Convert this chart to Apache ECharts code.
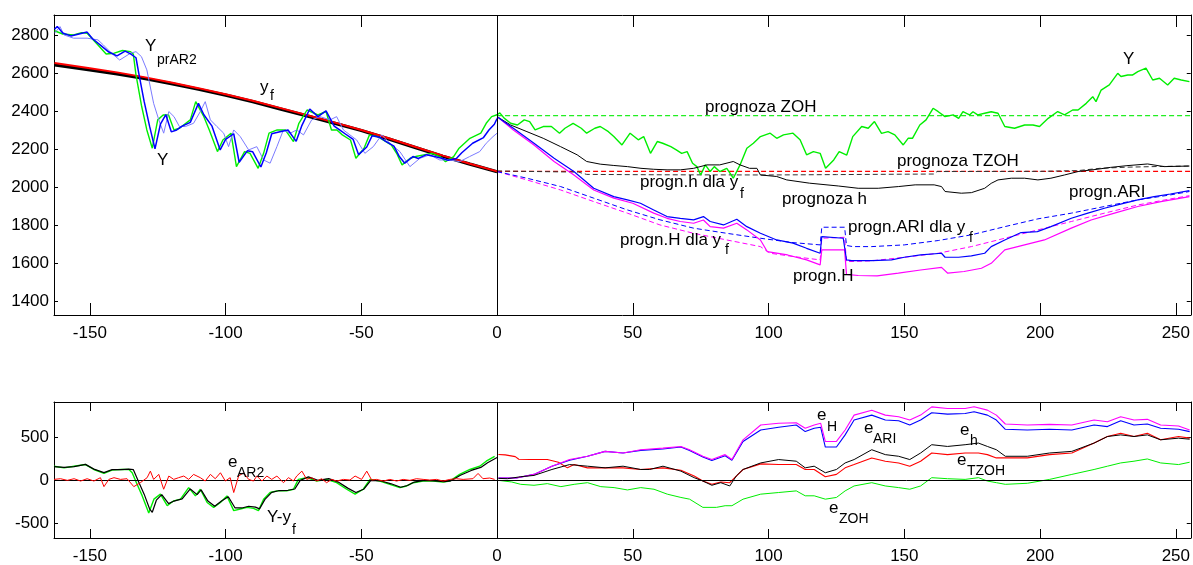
<!DOCTYPE html>
<html><head><meta charset="utf-8">
<script src="https://cdn.jsdelivr.net/npm/echarts@6/dist/echarts.min.js"></script>
<style>html,body{margin:0;padding:0;background:#fff}#c{width:1193px;height:565px}</style>
</head><body><div id="c"></div>
<script>
// ---------- tick labels ----------
const xTicks = [-150,-100,-50,0,50,100,150,200,250];
const topYTicks = [1400,1600,1800,2000,2200,2400,2600,2800];
const botYTicks = [-500,0,500];

// ---------- top plot: observed series Y (history + forecast horizon) ----------
const Y_obs = [[-163,2822],[-160,2805],[-156,2800],[-153,2812],[-151,2809],[-147,2747],[-144,2700],[-141,2704],[-138,2718],[-135,2712],[-134,2700],[-133,2590],[-131,2430],[-129,2300],[-127,2204],[-125,2353],[-123,2379],[-121,2379],[-119,2300],[-117,2309],[-113,2353],[-111,2449],[-108,2370],[-106,2300],[-103,2186],[-101,2247],[-98,2283],[-96,2107],[-93,2186],[-91,2177],[-88,2098],[-86,2177],[-84,2283],[-81,2300],[-78,2300],[-75,2239],[-73,2335],[-70,2405],[-66,2379],[-63,2397],[-61,2300],[-59,2300],[-57,2274],[-54,2247],[-52,2151],[-49,2204],[-47,2274],[-44,2265],[-42,2247],[-39,2221],[-37,2177],[-35,2116],[-32,2151],[-30,2160],[-27,2169],[-24,2177],[-21,2160],[-19,2133],[-16,2160],[-14,2204],[-10,2256],[-6,2283],[-4,2335],[-2,2370],[0,2380],
[1,2390],[2.6,2362],[5,2335],[7.5,2326],[10,2353],[12,2344],[14,2300],[17,2318],[20,2318],[23,2283],[25,2309],[28,2335],[31,2309],[33,2283],[36,2309],[38,2318],[41,2291],[43,2265],[46,2221],[49,2283],[52,2248],[54,2265],[56.5,2177],[59,2239],[61,2230],[64,2212],[66,2195],[68,2177],[70,2186],[72,2125],[73.6,2107],[75,2063],[76.7,2116],[78.5,2081],[80,2107],[82,2081],[84.6,2098],[87,2046],[89.5,2116],[92,2204],[94.4,2230],[97,2265],[100.6,2283],[103,2256],[105.5,2274],[109,2283],[111.6,2248],[114,2169],[116.5,2186],[119,2177],[121,2098],[124,2142],[126,2186],[128.8,2168],[131,2265],[134.3,2318],[136.7,2309],[139,2344],[141.6,2282],[144,2291],[146.5,2274],[149.6,2221],[151.4,2256],[153,2256],[155.7,2326],[158,2353],[160.6,2414],[162.5,2396],[165,2370],[168,2379],[170,2361],[171.6,2396],[174,2379],[175.3,2396],[177,2379],[179.6,2388],[182,2396],[184.5,2388],[187,2318],[190.6,2309],[194.3,2326],[197.4,2326],[199.8,2318],[203,2361],[206.5,2397],[209,2379],[212,2405],[214,2405],[217,2440],[219.4,2475],[220.6,2449],[222.5,2510],[225.5,2537],[228.6,2598],[229.8,2581],[232.3,2589],[234,2589],[236,2607],[239,2625],[241.5,2563],[244,2572],[247,2537],[249.4,2572],[252,2563],[255,2554]];

const Y_blue_hist = [[-163,2830],[-162,2845],[-160,2810],[-157,2795],[-154,2805],[-151,2815],[-149,2780],[-146,2745],[-143,2710],[-140,2690],[-137,2715],[-135,2700],[-133,2680],[-132,2600],[-130,2450],[-128,2320],[-126,2200],[-124,2330],[-122,2380],[-120,2290],[-118,2300],[-116,2320],[-113,2340],[-110,2440],[-108,2380],[-105,2320],[-102,2195],[-100,2250],[-97,2280],[-95,2130],[-92,2190],[-90,2185],[-87,2105],[-85,2180],[-83,2280],[-80,2290],[-77,2300],[-74,2240],[-72,2320],[-69,2410],[-66,2370],[-63,2400],[-60,2320],[-58,2300],[-56,2280],[-53,2250],[-51,2170],[-48,2210],[-46,2270],[-43,2260],[-41,2240],[-38,2215],[-36,2160],[-34,2125],[-31,2160],[-29,2150],[-26,2170],[-23,2160],[-20,2150],[-18,2140],[-15,2150],[-13,2180],[-9,2230],[-5,2260],[-3,2300],[-1,2330],[0,2360]];

const Y_prAR2 = [[-163,2809],[-161,2844],[-159.5,2800],[-156,2783],[-151,2783],[-147,2774],[-145,2747],[-142,2704],[-139,2668],[-135,2704],[-133,2712],[-131,2686],[-129,2616],[-126.5,2440],[-124.6,2353],[-122.8,2283],[-120.9,2397],[-119,2370],[-117,2318],[-114.8,2318],[-111.8,2335],[-109.3,2397],[-107.5,2449],[-105.6,2353],[-103.2,2318],[-100.7,2283],[-98.9,2212],[-97,2300],[-94.6,2265],[-91.5,2195],[-88.5,2212],[-86,2142],[-83.6,2125],[-81.1,2212],[-78.7,2300],[-76.2,2283],[-73.8,2300],[-71.3,2274],[-68.3,2353],[-65.2,2370],[-61.5,2353],[-59.1,2370],[-56.6,2300],[-54.2,2274],[-51.7,2247],[-48.7,2177],[-45.6,2212],[-42.5,2274],[-39.5,2230],[-35.8,2186],[-32.1,2107],[-28.4,2151],[-24.8,2169],[-21.1,2142],[-17.4,2142],[-13.8,2133],[-10.1,2160],[-6.4,2186],[-4,2230],[-1.5,2265],[0,2283]];

const yf_red = [[-163,2652],[-150,2625],[-140,2603],[-130,2578],[-120,2550],[-110,2520],[-100,2488],[-90,2454],[-80,2416],[-70,2378],[-60,2340],[-50,2300],[-40,2256],[-30,2210],[-20,2165],[-10,2122],[0,2082]];
const yf_black = [[-163,2642],[-150,2616],[-140,2595],[-130,2571],[-120,2544],[-110,2514],[-100,2483],[-90,2449],[-80,2411],[-70,2374],[-60,2336],[-50,2297],[-40,2253],[-30,2207],[-20,2162],[-10,2120],[0,2080]];

// ---------- top plot: forecasts ----------
const ZOH_level = 2375;
const TZOH_level = 2082;
const prog_h = [[0,2370],[5,2326],[11,2291],[17,2256],[23.4,2212],[29.5,2169],[33,2134],[38,2120],[43,2113],[48,2107],[53,2098],[57.7,2093],[62.6,2090],[67.5,2090],[72.4,2098],[77.3,2116],[82,2116],[87,2134],[89.5,2116],[93,2098],[95.7,2098],[97,2063],[103,2055],[106.7,2037],[115,2020],[125.7,2005],[133,1993],[140.4,1993],[147.8,2002],[154,2011],[161,2011],[163.7,2002],[165,1976],[171,1967],[174.7,1970],[179.6,1993],[182,2019],[184.5,2037],[189.4,2046],[194.3,2046],[199.2,2037],[204,2046],[209,2063],[214,2081],[221,2093],[226,2103],[232,2112],[239.6,2121],[245.7,2107],[255,2110]];
const prog_h_yf = [[0,2084],[30,2078],[33,2066],[60,2064],[100,2063],[125,2065],[161,2068],[162,2081],[200,2082],[214,2086],[222,2098],[232,2104],[245,2108],[255,2110]];
const prog_ARI = [[0,2370],[6,2309],[13.6,2230],[21,2151],[28.3,2081],[35.6,1993],[43,1949],[48,1932],[52.8,1914],[57.7,1879],[62.6,1844],[67.5,1835],[72.4,1827],[76,1844],[78.5,1818],[83.4,1800],[88.3,1830],[92,1791],[97,1756],[103,1721],[109,1704],[114,1677],[119,1651],[119.6,1739],[127.5,1730],[128.7,1616],[130.6,1612],[138,1612],[145.3,1616],[150,1630],[156,1642],[163.7,1651],[165,1630],[170,1630],[174.7,1637],[179.6,1651],[182,1686],[187,1721],[193,1760],[199,1765],[204,1791],[211.5,1835],[217.6,1862],[223.7,1888],[230,1911],[236,1932],[242,1949],[248,1963],[255,1981]];
const prog_H = [[0,2370],[6,2300],[13.6,2221],[21,2134],[28.3,2063],[35.6,1984],[43,1941],[50,1914],[57.7,1862],[62.6,1835],[67.5,1818],[72.4,1809],[76,1826],[78.5,1791],[83.4,1783],[88.3,1809],[92,1774],[97,1721],[99.5,1660],[107,1642],[114,1616],[119,1590],[119.6,1669],[128,1669],[128.7,1540],[133,1534],[140,1532],[147.8,1546],[156,1563],[163.7,1577],[166,1546],[172,1555],[178.4,1572],[182,1598],[187,1669],[194.3,1695],[201.6,1721],[211.5,1783],[218.8,1826],[227.4,1862],[236,1897],[244.5,1923],[255,1949]];
const prog_ARI_yf = [[0,2081],[11,2046],[23.4,2002],[35.6,1941],[48,1879],[60,1827],[72.4,1783],[84.6,1756],[97,1730],[109,1707],[119,1695],[119.6,1788],[128,1788],[128.7,1692],[131,1686],[138,1686],[150,1695],[162.5,1718],[174.7,1748],[187,1791],[199.2,1832],[211.5,1862],[223.7,1897],[236,1932],[248,1958],[255,1976]];
const prog_H_yf = [[0,2081],[11,2037],[23.4,1984],[35.6,1923],[48,1862],[60,1800],[72.4,1756],[84.6,1721],[97,1686],[100.6,1651],[109,1634],[119,1616],[119.6,1730],[128,1735],[128.7,1607],[138,1611],[150,1630],[162.5,1651],[174.7,1686],[187,1730],[199.2,1774],[211.5,1818],[223.7,1862],[236,1905],[248,1937],[255,1954]];

// ---------- bottom plot: deviations / errors ----------
const dev_green = [[-163.2,164],[-159.5,145],[-155.8,164],[-151.6,183],[-148.5,126],[-144.8,80],[-141.8,118],[-138.7,126],[-135.6,126],[-134.4,88],[-132.6,-46],[-130.7,-180],[-128.3,-378],[-126.4,-218],[-124,-160],[-121.5,-294],[-119.1,-237],[-116.6,-218],[-113.6,-84],[-111.1,-180],[-109.3,-103],[-106.8,-256],[-104.4,-313],[-101.9,-256],[-99.5,-180],[-97,-351],[-94.6,-332],[-92.1,-313],[-89.7,-325],[-87.9,-351],[-86,-218],[-83.6,-141],[-81.1,-122],[-77.5,-122],[-75,-103],[-73.2,11],[-70.1,31],[-66.4,-8],[-62.8,11],[-59.1,-27],[-55.4,-103],[-52.3,-160],[-49.3,-103],[-46.8,11],[-43.2,-8],[-39.5,-46],[-35.8,-84],[-33.3,-65],[-30.9,-27],[-27.2,-8],[-23.6,-8],[-19.9,-19],[-17.4,-8],[-13.8,69],[-10,126],[-6.4,164],[-4,222],[-0.9,279]];
const dev_black = [[-163.2,160],[-159.5,150],[-155.8,160],[-151.6,185],[-148.5,130],[-144.8,90],[-141.8,125],[-138.7,125],[-135.6,130],[-134,125],[-132,-20],[-130,-160],[-128,-330],[-127,-370],[-125.5,-230],[-123.5,-165],[-121,-270],[-119,-240],[-116,-215],[-113,-100],[-110.5,-165],[-109,-110],[-106.5,-240],[-104,-300],[-101.5,-240],[-99,-190],[-96.5,-320],[-94,-320],[-91.5,-300],[-89,-310],[-87.5,-330],[-85.5,-220],[-83,-140],[-80.5,-120],[-77,-115],[-74.5,-100],[-72.5,0],[-69.5,40],[-66,0],[-62,20],[-58.5,-20],[-55,-90],[-52,-140],[-49,-100],[-46.5,0],[-43,-5],[-39,-40],[-35.5,-80],[-33,-60],[-30.5,-20],[-27,0],[-23,-5],[-19.5,-15],[-17,-5],[-13.5,60],[-9.5,115],[-6,150],[-3.5,205],[0,265]];
const e_AR2 = [[-163.2,11],[-160.8,19],[-158.3,0],[-155.8,19],[-153.4,-8],[-151,19],[-148.5,-8],[-146.1,31],[-144.8,-73],[-143,11],[-141.1,31],[-138.7,11],[-136.3,19],[-133.8,-73],[-131.4,-27],[-128.9,31],[-127.7,107],[-126.5,11],[-124.6,69],[-122.8,-103],[-120.9,50],[-119.1,11],[-117.3,31],[-115.4,50],[-113.6,11],[-111.8,69],[-109.3,31],[-107.5,-8],[-105.6,69],[-103.8,19],[-101.9,88],[-100.1,-8],[-98.3,31],[-97,-141],[-95.2,50],[-93.4,88],[-91.5,11],[-89.7,-8],[-88.5,50],[-86.6,-8],[-84.8,50],[-83,11],[-81.1,50],[-78.7,-27],[-76.8,31],[-75,-8],[-73.8,50],[-71.9,107],[-70.1,11],[-68.3,31],[-66.4,-8],[-64.6,19],[-62.8,-27],[-60.9,11],[-59.1,-8],[-56.6,11],[-54.2,4],[-52.3,50],[-49.9,11],[-48,107],[-46.2,4],[-44.4,11],[-41.9,-8],[-39.5,11],[-37,-8],[-34.6,11],[-32.1,0],[-29.7,19],[-27.2,11],[-24.8,4],[-22.3,11],[-19.9,-8],[-17.4,11],[-15,19],[-12.5,11],[-8.9,19],[-7,80],[-5.2,19],[-2.7,27],[-0.9,11]];
const e_H = [[0.5,27],[7.1,27],[13.6,69],[20.2,164],[26.7,241],[33.3,279],[39.8,336],[46.4,317],[52.9,355],[61.1,374],[67.7,393],[70.9,355],[75.8,279],[79.1,241],[84,298],[86.5,241],[90.6,470],[97.1,642],[103.7,661],[110.2,668],[113.5,603],[116.8,642],[119.2,661],[120.9,451],[125,451],[128.2,584],[131.5,756],[138,813],[143,756],[147.9,737],[152,699],[156,756],[160.1,852],[165.9,833],[172.4,833],[175.7,852],[180.6,814],[183.9,756],[187.2,653],[195.3,642],[203.5,649],[211.7,642],[219.9,699],[224.8,680],[229.7,737],[234.6,699],[239.5,707],[244.4,642],[251,630],[255.1,584]];
const e_ARI = [[0.5,27],[7.1,27],[13.6,69],[20.2,164],[26.7,233],[33.3,279],[39.8,336],[46.4,317],[52.9,347],[61.1,363],[67.7,386],[70.9,347],[75.8,271],[79.1,229],[84,286],[86.5,233],[90.6,451],[97.1,584],[103.7,615],[110.2,642],[113.5,565],[116.8,604],[119.2,615],[120.9,386],[125,386],[128.2,527],[131.5,699],[138,756],[143,699],[147.9,691],[152,642],[156,699],[160.1,783],[165.9,768],[172.4,775],[175.7,795],[180.6,756],[183.9,699],[187.2,592],[195.3,584],[203.5,592],[211.7,584],[219.9,642],[224.8,623],[229.7,691],[234.6,642],[239.5,653],[244.4,604],[251,592],[255.1,565]];
const e_h = [[0.5,23],[3.8,19],[8.7,42],[13.6,57],[20.2,126],[26.7,183],[33.3,164],[39.8,145],[46.4,164],[52.9,126],[56.2,126],[61.1,164],[67.7,107],[72.6,31],[75.8,-8],[79.1,-57],[82.4,-27],[85.7,-65],[88.1,50],[90.6,126],[97.1,202],[103.7,241],[110.2,222],[113.5,145],[116.8,164],[120.9,88],[125,126],[128.2,202],[131.5,241],[138,355],[143,298],[147.9,279],[152,241],[156,317],[160.1,413],[165.9,393],[172.4,413],[177.3,432],[180.6,393],[183.9,355],[187.2,279],[195.3,279],[203.5,317],[211.7,336],[219.9,432],[224.8,508],[229.7,527],[234.6,508],[239.5,527],[244.4,470],[251,489],[255.1,477]];
const e_TZOH = [[0.5,300],[3,295],[6.7,275],[8,245],[12,241],[18.5,241],[22.6,210],[25.9,145],[28.4,183],[33.3,145],[39.8,145],[46.4,145],[52.9,126],[61.1,145],[67.7,118],[72.6,50],[75.8,-8],[79.1,-46],[82.4,-19],[85.7,-27],[88.1,50],[90.6,126],[97.1,191],[103.7,183],[110.2,183],[113.5,126],[116.8,126],[120.9,42],[125,69],[128.2,145],[131.5,183],[138,260],[143,222],[147.9,202],[152,164],[156,222],[160.1,317],[165.9,298],[172.4,317],[177.3,317],[180.6,298],[183.9,260],[187.2,260],[195.3,260],[203.5,298],[211.7,317],[219.9,432],[224.8,508],[229.7,546],[234.6,508],[239.5,546],[244.4,470],[251,508],[255.1,489]];
const e_ZOH = [[0.5,0],[5.4,-19],[8.7,-46],[13.6,-57],[18.5,-38],[23.5,-73],[28.4,-46],[33.3,-27],[38.2,-73],[43.1,-84],[48,-111],[52.9,-84],[57.8,-103],[62.7,-160],[67.7,-198],[70.9,-218],[75.8,-313],[80.8,-313],[84,-294],[86.5,-294],[90.6,-218],[97.1,-160],[103.7,-141],[110.2,-122],[113.5,-179],[116.8,-179],[120.9,-218],[125,-198],[128.2,-122],[131.5,-65],[138,-27],[143,-65],[147.9,-84],[152,-103],[156,-65],[160.1,31],[165.9,19],[172.4,11],[177.3,31],[180.6,-8],[183.9,-27],[187.2,-46],[195.3,-34],[203.5,11],[211.7,69],[219.9,126],[224.8,164],[229.7,202],[234.6,222],[239.5,248],[244.4,202],[251,183],[255.1,210]];

// ---------- chart ----------
const FONT = '"Liberation Sans", Arial, sans-serif';
const XMIN = -163.2, XMAX = 255.5;
const plain = v => String(v);
function xAx(grid, pos, showLabel, tickLen){
  return {type:'value', gridIndex:grid, position:pos, min:XMIN, max:XMAX,
    axisLine:{show:true, onZero:false, lineStyle:{color:'#000', width:1}},
    axisTick:{show:true, inside:true, length:tickLen, customValues:xTicks, lineStyle:{color:'#000'}},
    axisLabel:{show:showLabel, customValues:xTicks, formatter:plain, color:'#000', fontSize:17, fontFamily:FONT, margin:10},
    splitLine:{show:false}};
}
function yAx(grid, pos, mn, mx, ticks, showLabel){
  return {type:'value', gridIndex:grid, position:pos, min:mn, max:mx,
    axisLine:{show:true, onZero:false, lineStyle:{color:'#000', width:1}},
    axisTick:{show:true, inside:true, length:4, customValues:ticks, lineStyle:{color:'#000'}},
    axisLabel:{show:showLabel, customValues:ticks, formatter:plain, color:'#000', fontSize:17, fontFamily:FONT, margin:5},
    splitLine:{show:false}};
}
function line(name, data, color, width, xi, yi, dashed, z){
  return {name, type:'line', data, xAxisIndex:xi, yAxisIndex:yi, showSymbol:false, symbol:'none',
    lineStyle:{color, width, type: dashed ? [5,3] : 'solid'}, silent:true, z: z||2, animation:false};
}
function hline(name, level, color, xi, yi){
  return line(name, [[0, level],[XMAX, level]], color, 1.2, xi, yi, true, 2);
}

const series = [
  line('yf_black', yf_black, '#000000', 3.2, 0, 0, false, 2),
  line('yf_red', yf_red, '#ff0000', 2, 0, 0, false, 3),
  line('Y', Y_obs, '#00ee00', 1.4, 0, 0, false, 3),
  line('Y_prAR2', Y_prAR2, '#7b7bff', 1, 0, 0, false, 3),
  line('Y_blue', Y_blue_hist, '#0000ff', 1.5, 0, 0, false, 4),
  hline('ZOH', ZOH_level, '#22ee22', 0, 0),
  hline('TZOH', TZOH_level, '#ff0000', 0, 0),
  line('prog_h_yf', prog_h_yf, '#333333', 1, 0, 0, true, 2),
  line('prog_h', prog_h, '#000000', 1, 0, 0, false, 3),
  line('prog_H_yf', prog_H_yf, '#ff00ff', 1, 0, 0, true, 3),
  line('prog_ARI_yf', prog_ARI_yf, '#0000ff', 1, 0, 0, true, 3),
  line('prog_H', prog_H, '#ff00ff', 1.2, 0, 0, false, 3),
  line('prog_ARI', prog_ARI, '#0000ff', 1.2, 0, 0, false, 4),
  // bottom
  line('dev_green', dev_green, '#00ee00', 1.4, 2, 2, false, 3),
  line('dev_black', dev_black, '#000000', 1.2, 2, 2, false, 4),
  line('e_AR2', e_AR2, '#ff0000', 1, 2, 2, false, 5),
  line('e_ZOH', e_ZOH, '#00ee00', 1, 2, 2, false, 3),
  line('e_TZOH', e_TZOH, '#ff0000', 1.1, 2, 2, false, 3),
  line('e_h', e_h, '#000000', 1, 2, 2, false, 4),
  line('e_ARI', e_ARI, '#0000ff', 1.1, 2, 2, false, 3),
  line('e_H', e_H, '#ff00ff', 1.1, 2, 2, false, 3),
];
// reference lines: x = 0 in both panels, y = 0 in the lower panel
series.push({type:'line', xAxisIndex:0, yAxisIndex:0, data:[], silent:true,
  markLine:{silent:true, symbol:'none', label:{show:false}, lineStyle:{color:'#000', width:1, type:'solid'}, data:[{xAxis:0}]}});
series.push({type:'line', xAxisIndex:2, yAxisIndex:2, data:[], silent:true,
  markLine:{silent:true, symbol:'none', label:{show:false}, lineStyle:{color:'#000', width:1, type:'solid'}, data:[{xAxis:0},{yAxis:0}]}});

// annotation text: [main, x, yCenter, sub, subX, subYCenter]
const labels = [
  ['Y',145,46,'prAR2',157,60],
  ['Y',157,160,'',0,0],
  ['y',260,87,'f',270,96],
  ['prognoza ZOH',705,107,'',0,0],
  ['prognoza TZOH',897,161,'',0,0],
  ['progn.h dla y',640,182,'f',740,194],
  ['prognoza h',782,199,'',0,0],
  ['progn.ARI',1069,192,'',0,0],
  ['progn.ARI dla y',848,227,'f',969,238],
  ['progn.H dla y',620,240,'f',725,250],
  ['progn.H',793,276,'',0,0],
  ['Y',1123,59,'',0,0],
  ['e',228,462,'AR2',237,473],
  ['Y-y',267,517,'f',292,530],
  ['e',817,415,'H',827,427],
  ['e',864,428,'ARI',873,439],
  ['e',960,430,'h',970,441],
  ['e',957,460,'TZOH',967,471],
  ['e',829,508,'ZOH',839,519],
];
const graphic = [];
labels.forEach(l => {
  graphic.push({type:'text', x:l[1], y:l[2], silent:true, z:100,
    style:{text:l[0], font:'17px '+FONT, fill:'#000', verticalAlign:'middle', align:'left'}});
  if (l[3]) graphic.push({type:'text', x:l[4], y:l[5], silent:true, z:100,
    style:{text:l[3], font:'14px '+FONT, fill:'#000', verticalAlign:'middle', align:'left'}});
});

const chart = echarts.init(document.getElementById('c'), null, {renderer:'canvas'});
chart.setOption({
  animation:false,
  backgroundColor:'#fff',
  grid:[{left:54, top:15, width:1139, height:300, containLabel:false},
        {left:54, top:402, width:1139, height:137, containLabel:false}],
  xAxis:[xAx(0,'bottom',true,12), xAx(0,'top',false,12), xAx(1,'bottom',true,9), xAx(1,'top',false,9)],
  yAxis:[yAx(0,'left',1326,2905,topYTicks,true), yAx(0,'right',1326,2905,topYTicks,false),
         yAx(1,'left',-668,908,botYTicks,true), yAx(1,'right',-668,908,botYTicks,false)],
  series, graphic
});
</script></body></html>
